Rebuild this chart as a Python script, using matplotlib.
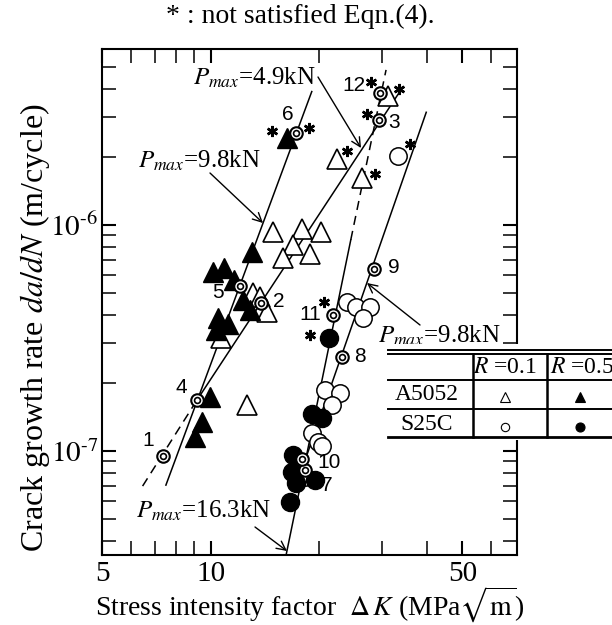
import matplotlib
matplotlib.use("Agg")
import matplotlib.pyplot as plt
from matplotlib.lines import Line2D
from matplotlib.patches import Rectangle
from matplotlib.ticker import FixedLocator, FixedFormatter, LogLocator, NullFormatter
from matplotlib.transforms import ScaledTranslation

plt.rcParams['font.family'] = ['Liberation Serif', 'DejaVu Serif']
plt.rcParams['mathtext.fontset'] = 'stix'

# ---------------- data ----------------
# A5052, R=0.1 (open triangles)
a_r01_dk = [14.9, 17.9, 20.3, 16.9, 18.9, 15.9, 22.4, 26.3, 31.1, 13.1, 13.7, 14.3, 10.7, 12.6]
a_r01_rate = [9.34e-7, 9.6e-7, 9.34e-7, 8.15e-7, 7.44e-7, 7.12e-7, 1.95e-6, 1.61e-6,
              3.72e-6, 5.0e-7, 4.8e-7, 4.13e-7, 3.15e-7, 1.60e-7]
# A5052, R=0.5 (filled triangles)
a_r05_dk = [16.3, 13.0, 10.17, 10.9, 11.6, 12.3, 12.9, 10.5, 11.2, 10.35, 9.96, 9.44, 9.05]
a_r05_rate = [2.42e-6, 7.62e-7, 6.21e-7, 6.48e-7, 5.71e-7, 4.66e-7, 4.2e-7, 3.88e-7,
              3.65e-7, 3.43e-7, 1.73e-7, 1.35e-7, 1.157e-7]
# S25C, R=0.1 (open circles)
s_r01_dk = [33.1, 23.9, 25.4, 27.7, 26.5, 20.8, 22.9, 21.7, 19.1, 19.9, 20.4, 17.7, 18.3]
s_r01_rate = [2.01e-6, 4.58e-7, 4.35e-7, 4.35e-7, 3.87e-7, 1.86e-7, 1.80e-7, 1.60e-7,
              1.20e-7, 1.10e-7, 1.05e-7, 7.96e-8, 7.69e-8]
# S25C, R=0.5 (filled circles)
s_r05_dk = [21.3, 19.1, 20.4, 16.96, 16.8, 17.3, 19.5, 16.6]
s_r05_rate = [3.15e-7, 1.46e-7, 1.40e-7, 9.6e-8, 8.1e-8, 7.2e-8, 7.45e-8, 5.97e-8]

# numbered specimens (double circles)
spec_no = ['1', '2', '3', '4', '5', '6', '7', '8', '9', '10', '11', '12']
spec_dk = [7.35, 13.77, 29.4, 9.14, 12.06, 17.3, 18.3, 23.1, 28.4, 17.9, 21.8, 29.5]
spec_rate = [9.55e-8, 4.5e-7, 2.91e-6, 1.68e-7, 5.37e-7, 2.55e-6, 8.24e-8, 2.61e-7,
             6.38e-7, 9.19e-8, 4.0e-7, 3.83e-6]

# fitted lines (end points)
fit_a_r05_dk = [7.51, 19.09]
fit_a_r05_rate = [7.07e-8, 3.89e-6]
fit_a_r01_dk = [9.16, 34.2]
fit_a_r01_rate = [1.68e-7, 4.08e-6]
fit_a_r01_ext_dk = [6.47, 9.16]
fit_a_r01_ext_rate = [7.0e-8, 1.68e-7]
fit_s_r05_dk = [16.2, 24.5]
fit_s_r05_rate = [3.47e-8, 8.59e-7]
fit_s_r05_ext_dk = [24.5, 30.7]
fit_s_r05_ext_rate = [8.59e-7, 4.85e-6]
fit_s_r01_dk = [17.5, 39.7]
fit_s_r01_rate = [7.44e-8, 3.15e-6]

x_ticks = [5, 10, 50]
x_ticklabels = ['5', '10', '50']
y_ticks = [1e-7, 1e-6]
y_ticklabels = [r'$10^{\text{-}7}$', r'$10^{\text{-}6}$']

# ---------------- figure ----------------
W, H = 612, 625
fig = plt.figure(figsize=(W / 100, H / 100), dpi=100)
L, R, T, B = 102.3, 516.7, 49, 555
ax = fig.add_axes([L / W, 1 - B / H, (R - L) / W, (B - T) / H])
ax.set_xscale('log')
ax.set_yscale('log')
ax.set_xlim(5, 70.8)
ax.set_ylim(3.47e-8, 6.0e-6)

line_kw = dict(color='k', lw=1.1, zorder=2)
ax.plot(fit_a_r05_dk, fit_a_r05_rate, **line_kw)
ax.plot(fit_a_r01_dk, fit_a_r01_rate, **line_kw)
ax.plot(fit_a_r01_ext_dk, fit_a_r01_ext_rate, ls=(0, (6, 4)), **line_kw)
ax.plot(fit_s_r05_dk, fit_s_r05_rate, **line_kw)
ax.plot(fit_s_r05_ext_dk, fit_s_r05_ext_rate, ls=(0, (6, 4)), **line_kw)
ax.plot(fit_s_r01_dk, fit_s_r01_rate, **line_kw)

ax.plot(a_r01_dk, a_r01_rate, ls='none', marker='^', ms=14, mfc='white', mec='k', mew=1.2, zorder=3)
ax.plot(a_r05_dk, a_r05_rate, ls='none', marker='^', ms=14.5, mfc='k', mec='k', mew=1.0, zorder=4)
ax.plot(s_r01_dk, s_r01_rate, ls='none', marker='o', ms=12.5, mfc='white', mec='k', mew=1.1, zorder=3)
ax.plot(s_r05_dk, s_r05_rate, ls='none', marker='o', ms=13, mfc='k', mec='k', mew=1.0, zorder=4)
ax.plot(spec_dk, spec_rate, ls='none', marker='o', ms=9, mfc='white', mec='k', mew=1.5, zorder=6)
ax.plot(spec_dk, spec_rate, ls='none', marker='o', ms=4.2, mfc='none', mec='k', mew=1.2, zorder=7)

# specimen numbers
num_offsets = [(-10, 10.8), (13, 1.4), (10.8, -1.4), (-10.8, 9.4), (-15.8, -5), (-6.5, 13),
               (15.8, -10.8), (13, 0), (14.4, 1.4), (20, -2.2), (-15.8, 0), (-18.7, 5.8)]
for s, x, y, off in zip(spec_no, spec_dk, spec_rate, num_offsets):
    ax.annotate(s, (x, y), xytext=off, textcoords='offset points', ha='center', va='center',
                fontsize=15, family='Liberation Sans', zorder=8)

# asterisks (points not satisfying Eqn.(4))
stars = [(a_r05_dk[0], a_r05_rate[0], -10.5, 4.8),
         (spec_dk[5], spec_rate[5], 9.4, 3.6),
         (spec_dk[11], spec_rate[11], -6.5, 7.9),
         (a_r01_dk[8], a_r01_rate[8], 7.9, 5.0),
         (spec_dk[2], spec_rate[2], -8.6, 4.3),
         (a_r01_dk[6], a_r01_rate[6], 7.2, 5.8),
         (a_r01_dk[7], a_r01_rate[7], 9.4, 2.9),
         (s_r01_dk[0], s_r01_rate[0], 8.6, 8.6),
         (spec_dk[10], spec_rate[10], -5.8, 9.4),
         (s_r05_dk[0], s_r05_rate[0], -13.7, 2.2)]
for x, y, dx, dy in stars:
    tr = ax.transData + ScaledTranslation(dx / 72, dy / 72, fig.dpi_scale_trans)
    ax.plot([x], [y], ls='none', marker=(6, 2, 0), ms=8, mec='k', mew=1.8, transform=tr, zorder=8)

# ticks
ax.xaxis.set_major_locator(FixedLocator(x_ticks))
ax.xaxis.set_major_formatter(FixedFormatter(x_ticklabels))
ax.xaxis.set_minor_locator(FixedLocator([6, 7, 8, 9, 20, 30, 40, 60]))
ax.xaxis.set_minor_formatter(NullFormatter())
ax.yaxis.set_major_locator(FixedLocator(y_ticks))
ax.yaxis.set_major_formatter(FixedFormatter(y_ticklabels))
ax.yaxis.set_minor_locator(LogLocator(base=10, subs=[2, 3, 4, 5, 6, 7, 8, 9], numticks=20))
ax.yaxis.set_minor_formatter(NullFormatter())
ax.tick_params(which='both', direction='in', top=True, right=True, length=10, width=1.1, labelsize=21)
ax.tick_params(which='major', width=1.5)
ax.tick_params(axis='x', which='both', pad=4)
ax.tick_params(axis='y', which='both', pad=3)
for sp in ax.spines.values():
    sp.set_linewidth(1.5)

ax.set_xlabel(r'Stress intensity factor  $\Delta\,K$ (MPa$\sqrt{\mathrm{m}}$)', fontsize=20, va='center')
ax.xaxis.set_label_coords(0.5, -0.099)
ax.set_ylabel(r'Crack growth rate $da/dN$ (m/cycle)', fontsize=23, va='center')
ax.yaxis.set_label_coords(-0.163, 0.45)

fig.text(0.49, 1 - 16 / H, '* : not satisfied Eqn.(4).', ha='center', va='center', fontsize=20)

# P_max annotations (positions in figure pixels, top-left origin)
def fp(x, y):
    return (x, H - y)

pm_texts = [(r'$P_{max}$=4.9kN', 193, 85), (r'$P_{max}$=9.8kN', 138, 168),
            (r'$P_{max}$=9.8kN', 378, 343), (r'$P_{max}$=16.3kN', 136, 518)]
for s, x, y in pm_texts:
    fig.text(x / W, 1 - y / H, s, ha='left', va='baseline', fontsize=18, zorder=3)

arrows = [((318, 77), (361, 148)), ((210, 173), (263, 223)),
          ((420, 325), (367, 283)), ((255, 527), (287, 551))]
for (x0, y0), (x1, y1) in arrows:
    ax.annotate('', xy=fp(x1, y1), xycoords='figure pixels', xytext=fp(x0, y0),
                textcoords='figure pixels',
                arrowprops=dict(arrowstyle='->', lw=1.0, color='k', shrinkA=0, shrinkB=0,
                                mutation_scale=16))

# ---------------- table ----------------
def fx(x):
    return x / W

def fy(y):
    return 1 - y / H

fig.add_artist(Rectangle((fx(385), fy(440)), fx(612) - fx(385), fy(344) - fy(440),
                         transform=fig.transFigure, facecolor='white', edgecolor='none', zorder=5))
for y, lw in [(350, 1.4), (353.5, 1.4), (380, 1.4), (409, 1.4), (437, 2.0)]:
    fig.add_artist(Line2D([fx(388), fx(612)], [fy(y), fy(y)], transform=fig.transFigure,
                          color='k', lw=lw, zorder=6))
for x in [472.7, 546.7]:
    fig.add_artist(Line2D([fx(x), fx(x)], [fy(353.5), fy(437)], transform=fig.transFigure,
                          color='k', lw=1.8, zorder=6))
fig.text(fx(505), fy(367), r'$R$ =0.1', ha='center', va='center', fontsize=17, zorder=7)
fig.text(fx(582), fy(367), r'$R$ =0.5', ha='center', va='center', fontsize=17, zorder=7)
fig.text(fx(427), fy(395), 'A5052', ha='center', va='center', fontsize=17, zorder=7)
fig.text(fx(427), fy(424), 'S25C', ha='center', va='center', fontsize=17, zorder=7)
sym = [(505, 397, '^', 'white', 6.5), (580, 397, '^', 'k', 6.5),
       (505, 427, 'o', 'white', 6), (580, 427, 'o', 'k', 6.5)]
for x, y, m, fc, ms in sym:
    fig.add_artist(Line2D([fx(x)], [fy(y)], transform=fig.transFigure, ls='none', marker=m,
                          ms=ms, mfc=fc, mec='k', mew=0.8, zorder=7))

fig.savefig('out.png', dpi=100)
